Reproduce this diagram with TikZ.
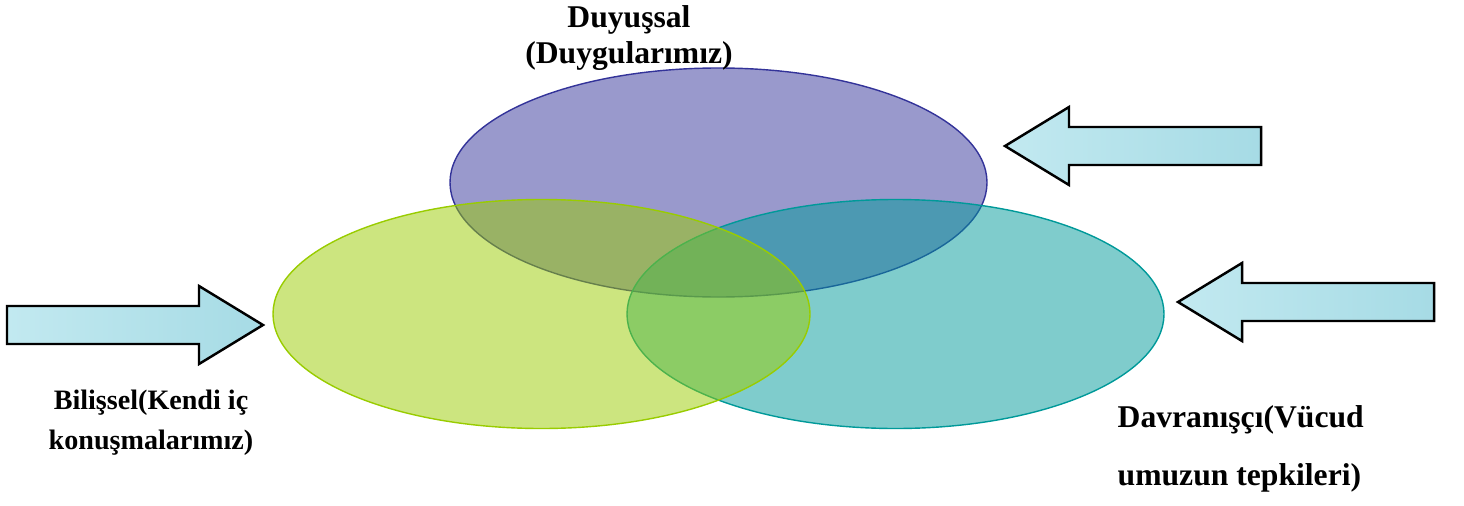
\documentclass[tikz,border=0pt]{standalone}
\usepackage{fontspec}
\setmainfont{Liberation Serif}
\usetikzlibrary{shapes.geometric}
\definecolor{duyuPurple}{HTML}{333399}
\definecolor{bilisGreen}{HTML}{99CC00}
\definecolor{davrTeal}{HTML}{009999}
\definecolor{waterLight}{HTML}{C2E9F0}
\definecolor{waterDark}{HTML}{A6DBE5}
\tikzset{
  circlebox/.style={ellipse, inner sep=0pt, minimum width=5.37cm, minimum height=2.29cm,
    line width=0.4pt, fill opacity=0.5},
  wavearrow/.style={draw=black, line width=0.7pt, line join=miter,
    left color=waterLight, right color=waterDark},
  lbl/.style={font=\bfseries\fontsize{9}{10}\selectfont, inner sep=0pt}
}
\begin{document}
\begin{tikzpicture}
    \useasboundingbox (0,0) rectangle (14.64,-5.05);
    %% Circles
    \node[circlebox, draw=duyuPurple, fill=duyuPurple] (duyu) at (7.185,-1.825) {};
    \node[circlebox, draw=davrTeal, fill=davrTeal] (davr) at (8.955,-3.14) {};
    \node[circlebox, draw=bilisGreen, fill=bilisGreen] (bilis) at (5.415,-3.14) {};
    %% Arrows
    \foreach \tx/\ty/\d in {2.63/-3.25/-1, 10.05/-1.46/1, 11.78/-3.02/1}
        \draw[wavearrow] (\tx,\ty) -- ++(\d*0.64,0.39) -- ++(0,-0.20)
            -- ++(\d*1.92,0) -- ++(0,-0.38) -- ++(-\d*1.92,0)
            -- ++(0,-0.20) -- cycle;
    %% Labels
    \node[lbl, align=center] (duyuText) at (6.29,-0.38)
        {Duyuşsal\\(Duygularımız)};
    \node[lbl, align=center, font=\bfseries\fontsize{8}{11.4}\selectfont] (bilisText) at (1.51,-4.23)
        {Bilişsel(Kendi iç\\konuşmalarımız)};
    \node[lbl, align=left, anchor=west, font=\bfseries\fontsize{9}{16.5}\selectfont] (davrText) at (11.17,-4.49)
        {Davranışçı(Vücud\\umuzun tepkileri)};
\end{tikzpicture}
\end{document}
